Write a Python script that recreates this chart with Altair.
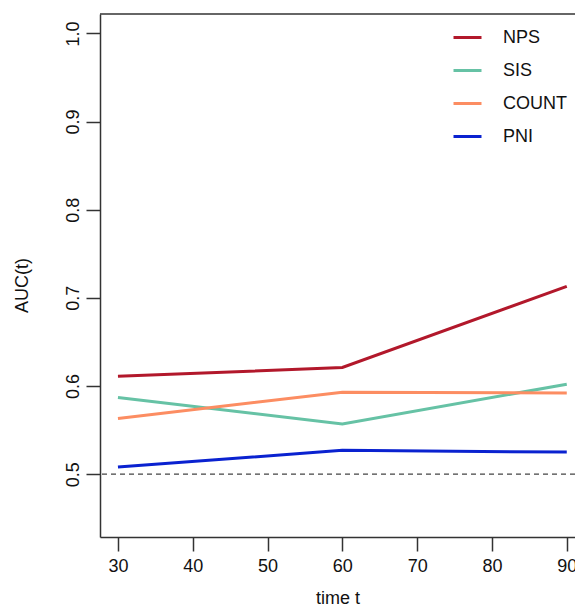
import altair as alt
import pandas as pd

# ---- data ----
times = [30, 60, 90]
methods = ["NPS", "SIS", "COUNT", "PNI"]
nps = [0.611, 0.621, 0.713]
sis = [0.587, 0.557, 0.602]
count = [0.563, 0.593, 0.592]
pni = [0.508, 0.527, 0.525]
colors = ["#B2182B", "#66C2A5", "#FC8D62", "#0A22D0"]
y_ticks = [0.5, 0.6, 0.7, 0.8, 0.9, 1.0]
x_ticks = [30, 40, 50, 60, 70, 80, 90]
ref_level = [0.5]

rows = []
for m, vals in zip(methods, [nps, sis, count, pni]):
    for t, v in zip(times, vals):
        rows.append({"time": t, "method": m, "auc": v})
df = pd.DataFrame(rows)

W, H = 475, 523
FONT = "Liberation Sans"
x_scale = alt.Scale(domain=[27.6, 91.1], nice=False, zero=False)
y_scale = alt.Scale(domain=[0.4287, 1.022], nice=False, zero=False)

lines = alt.Chart(df).mark_line(strokeWidth=3, clip=True).encode(
    x=alt.X("time:Q", scale=x_scale,
            axis=alt.Axis(title="time t", values=x_ticks, labelPadding=6,
                          titleY=61, titleBaseline="middle")),
    y=alt.Y("auc:Q", scale=y_scale,
            axis=alt.Axis(title="AUC(t)", values=y_ticks, format=".1f",
                          labelAngle=270, labelAlign="center", labelBaseline="bottom",
                          labelPadding=4, titleAngle=270, titleX=-78, titleY=271,
                          titleAlign="center", titleBaseline="middle")),
    color=alt.Color("method:N", sort=methods,
                    scale=alt.Scale(domain=methods, range=colors),
                    legend=alt.Legend(title=None, orient="none", legendX=352, legendY=8,
                                      symbolType="stroke", symbolSize=784,
                                      symbolStrokeWidth=3, labelFontSize=18,
                                      labelFont=FONT, labelColor="#111",
                                      labelOffset=20, rowPadding=8, padding=0)),
    detail="method:N",
)

ref = alt.Chart(pd.DataFrame({"y": ref_level})).mark_rule(
    strokeDash=[5, 4], color="#444", strokeWidth=1.3
).encode(y=alt.Y("y:Q", scale=y_scale))

top_border = alt.Chart(pd.DataFrame({"y": ref_level})).mark_rule(
    color="#333", strokeWidth=1.5
).encode(x=alt.value(0), x2=alt.value(W), y=alt.value(0))

chart = alt.layer(ref, lines, top_border).properties(
    width=W, height=H,
    background="white",
    autosize=alt.AutoSizeParams(type="none"),
    padding={"left": 100, "top": 14, "right": 0, "bottom": 72},
).configure_view(stroke="transparent").configure_axis(
    labelFont=FONT, titleFont=FONT, labelFontSize=18, titleFontSize=18,
    titleFontWeight="normal", labelColor="#111", titleColor="#111",
    tickSize=14, tickWidth=1.5, tickColor="#333", domainColor="#333",
    domainWidth=1.5, grid=False,
)

chart.save("out.html", embed_options={"renderer": "svg", "actions": False})
